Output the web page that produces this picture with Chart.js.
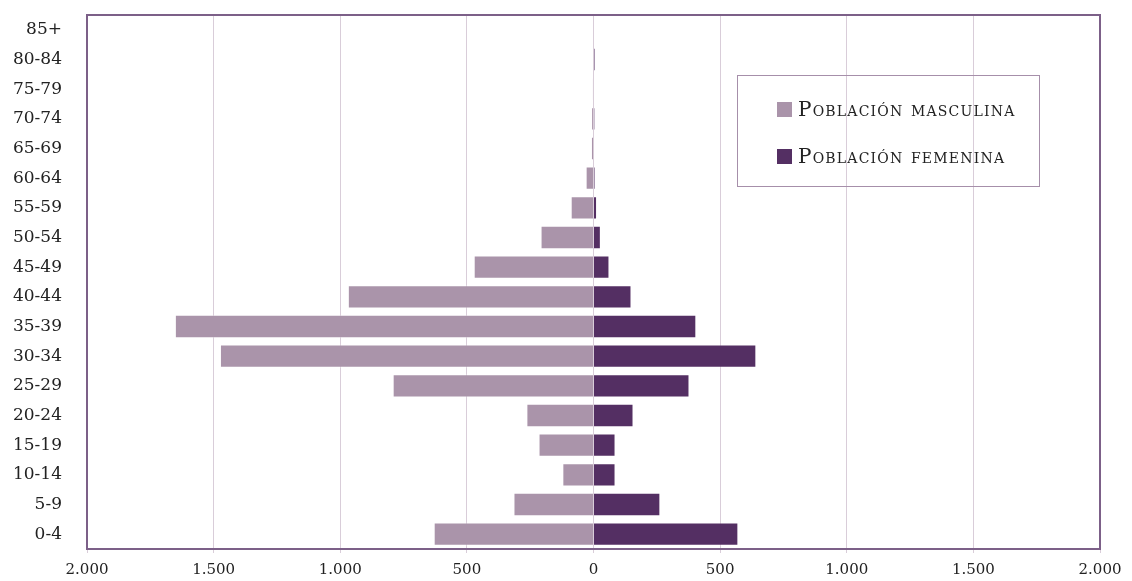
<!DOCTYPE html>
<html>
<head>
<meta charset="utf-8">
<script src="https://cdn.jsdelivr.net/npm/chart.js@4"></script>
<style>
  html, body { margin: 0; padding: 0; background: #fff; }
  #wrap { width: 1132px; height: 581px; }
</style>
</head>
<body>
<div id="wrap"><canvas id="pyramid"></canvas></div>
<script>
const ageGroups = ["0-4", "5-9", "10-14", "15-19", "20-24", "25-29", "30-34", "35-39", "40-44",
  "45-49", "50-54", "55-59", "60-64", "65-69", "70-74", "75-79", "80-84", "85+"];
const male = [631, 316, 123, 217, 265, 793, 1475, 1653, 970, 473, 209, 90, 31, 10, 9, 3, 0, 0];
const female = [572, 264, 87, 87, 158, 379, 643, 406, 150, 63, 29, 14, 6, 0, 5, 0, 6, 0];
const xTicks = [-2000, -1500, -1000, -500, 0, 500, 1000, 1500, 2000];

const FONT = "'DejaVu Serif', serif";
const frameColor = "#7C6088";

function fmt(v) {
  return String(Math.abs(v)).replace(/\B(?=(\d{3})+(?!\d))/g, ".");
}

// plot frame + legend box drawn by hand
const framePlugin = {
  id: "frame",
  afterDatasetsDraw(chart) {
    const { ctx, chartArea: a } = chart;
    ctx.save();
    ctx.strokeStyle = frameColor;
    ctx.lineWidth = 2;
    ctx.strokeRect(a.left, a.top, a.right - a.left, a.bottom - a.top);

    // legend
    ctx.strokeStyle = "#A68FAA";
    ctx.lineWidth = 1;
    ctx.strokeRect(737.5, 75.5, 302, 111);
    ctx.font = "small-caps 20px " + FONT;
    ctx.letterSpacing = "1.2px";
    ctx.textBaseline = "middle";
    chart.data.datasets.forEach((ds, i) => {
      const y = 110 + i * 47;
      ctx.fillStyle = ds.backgroundColor;
      ctx.fillRect(777, y - 8, 15, 15);
      ctx.fillStyle = "#222";
      ctx.fillText(ds.label, 798, y + 1);
    });
    ctx.restore();
  }
};

new Chart(document.getElementById("pyramid"), {
  type: "bar",
  data: {
    labels: ageGroups,
    datasets: [
      {
        label: "Población masculina",
        data: male.map((v) => -v),
        backgroundColor: "#AA94AA",
        borderColor: "rgba(255,255,255,0.45)",
        borderWidth: 1,
        categoryPercentage: 0.8,
        barPercentage: 0.98,
      },
      {
        label: "Población femenina",
        data: female,
        backgroundColor: "#542F63",
        borderColor: "rgba(255,255,255,0.3)",
        borderWidth: 1,
        categoryPercentage: 0.8,
        barPercentage: 0.98,
      },
    ],
  },
  options: {
    indexAxis: "y",
    responsive: true,
    maintainAspectRatio: false,
    animation: false,
    layout: { padding: { top: 15, right: 32, left: 0, bottom: 0 } },
    plugins: {
      legend: { display: false },
      tooltip: { enabled: false },
    },
    scales: {
      x: {
        stacked: true,
        min: -2000,
        max: 2000,
        afterBuildTicks: (scale) => {
          scale.ticks = xTicks.map((v) => ({ value: v }));
        },
        afterFit: (scale) => {
          scale.height = 32;
        },
        grid: {
          color: "#D9CDD9",
          lineWidth: 1,
          tickLength: 4,
        },
        border: { display: false },
        ticks: {
          callback: (v) => fmt(v),
          font: { family: FONT, size: 15 },
          color: "#222",
          padding: 8,
          maxRotation: 0,
        },
      },
      y: {
        stacked: true,
        reverse: true,
        afterFit: (scale) => {
          scale.width = 87;
          scale.paddingTop = 0;
          scale.paddingBottom = 0;
        },
        grid: { display: false, drawTicks: false },
        border: { display: false },
        ticks: {
          font: { family: FONT, size: 17 },
          color: "#222",
          padding: 25,
        },
      },
    },
  },
  plugins: [framePlugin],
});
</script>
</body>
</html>
